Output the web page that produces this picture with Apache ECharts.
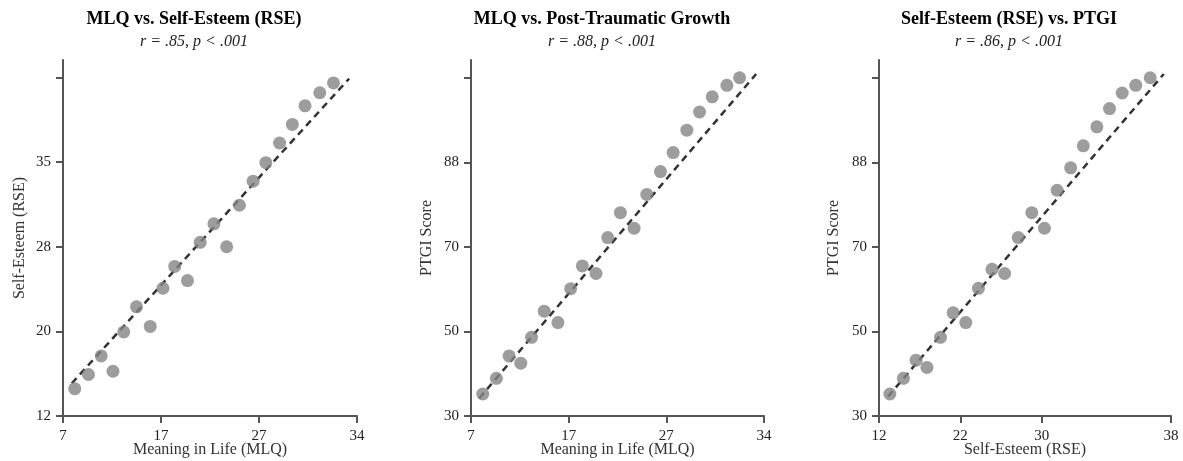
<!DOCTYPE html>
<html>
<head>
<meta charset="utf-8">
<script src="https://cdn.jsdelivr.net/npm/echarts@6/dist/echarts.min.js"></script>
<style>
  html, body { margin: 0; padding: 0; background: #fff; }
  #container { width: 1183px; height: 461px; }
</style>
</head>
<body>
<div id="container"></div>
<script>
// panel 1: MLQ vs RSE
const mlqA = [8.2, 9.6, 10.9, 12.1, 13.2, 14.5, 15.9, 17.2, 18.4, 19.7, 21.0, 22.4, 23.7, 25.0, 26.4, 27.7, 29.1, 30.4, 31.7, 33.2, 34.6];
const rseA = [14.5, 15.8, 17.5, 16.1, 19.7, 22.0, 20.2, 23.7, 25.7, 24.4, 27.9, 29.6, 27.5, 31.3, 33.5, 35.2, 37.0, 38.7, 40.4, 41.6, 42.5];
const fitAx = [7.9, 36.2];
const fitAy = [15.0, 42.9];

// panel 2: MLQ vs PTGI
const mlqB = [8.2, 9.6, 10.9, 12.1, 13.2, 14.5, 15.9, 17.2, 18.4, 19.8, 21.0, 22.3, 23.7, 25.0, 26.4, 27.7, 29.1, 30.4, 31.7, 33.2, 34.5];
const ptgiB = [35.2, 38.9, 44.2, 42.5, 48.6, 54.8, 52.1, 60.1, 65.5, 63.7, 72.2, 78.1, 74.4, 82.4, 87.8, 92.3, 97.6, 101.9, 105.5, 108.2, 110.0];
const fitBx = [7.85, 36.2];
const fitBy = [34.2, 110.9];

// panel 3: RSE vs PTGI
const rseC = [13.2, 14.7, 16.1, 17.3, 18.8, 20.2, 21.6, 23.0, 24.5, 25.9, 27.4, 28.9, 30.3, 31.7, 33.2, 34.6, 36.1, 37.5, 38.9, 40.4, 42.0];
const ptgiC = [35.2, 38.9, 43.2, 41.5, 48.6, 54.4, 52.1, 60.2, 64.7, 63.7, 72.2, 78.1, 74.4, 83.4, 88.7, 93.9, 98.4, 102.7, 106.4, 108.2, 110.0];
const fitCx = [13.0, 43.5];
const fitCy = [34.6, 110.9];

// tick positions and the labels printed on them
const xTicksMLQ = [7, 17, 27, 37];
const xLabelsMLQ = ['7', '17', '27', '34'];
const yTicksRSE = [12, 19.75, 27.5, 35.25, 43];
const yLabelsRSE = ['12', '20', '28', '35', ''];
const yTicksPTGI = [30, 50, 70, 90, 110];
const yLabelsPTGI = ['30', '50', '70', '88', ''];
const xTicksRSE = [12, 21, 30, 44.3];
const xLabelsRSE = ['12', '22', '30', '38'];

const titles = ['MLQ vs. Self-Esteem (RSE)', 'MLQ vs. Post-Traumatic Growth', 'Self-Esteem (RSE) vs. PTGI'];
const subtitles = ['r = .85, p < .001', 'r = .88, p < .001', 'r = .86, p < .001'];

const FONT = '"Liberation Serif", "Times New Roman", serif';

let dom = document.getElementById('container');
let myChart = echarts.init(dom);

function zip(xs, ys) {
    return xs.map((x, i) => [x, ys[i]]);
}

function labelFor(ticks, labels) {
    return (v) => {
        for (let i = 0; i < ticks.length; i++) {
            if (Math.abs(ticks[i] - v) < 1e-6) return labels[i];
        }
        return '';
    };
}

function makeAxis(idx, min, max, ticks, labels, name, isY, gap) {
    return {
        type: 'value',
        gridIndex: idx,
        min: min,
        max: max,
        name: name,
        nameLocation: 'middle',
        nameGap: gap,
        nameMoveOverlap: false,
        nameTextStyle: { fontFamily: FONT, fontSize: 16, color: '#333' },
        axisLine: { show: true, onZero: false, lineStyle: { color: '#555', width: 2 } },
        axisTick: { show: true, length: 7, customValues: ticks, lineStyle: { color: '#555', width: 2 } },
        axisLabel: {
            customValues: ticks,
            formatter: labelFor(ticks, labels),
            fontFamily: FONT, fontSize: 15, color: '#222',
            margin: isY ? 12 : 13
        },
        splitLine: { show: false }
    };
}

// fixed plot boxes; keep v6 from shrinking them to fit labels
const grids = [
    { left: 63, top: 60, width: 294, height: 356, containLabel: false, outerBoundsMode: 'none' },
    { left: 471, top: 60, width: 293, height: 356, containLabel: false, outerBoundsMode: 'none' },
    { left: 879, top: 60, width: 292, height: 356, containLabel: false, outerBoundsMode: 'none' }
];

const titleCenters = [194, 602, 1009];
const graphics = [];
titles.forEach((t, i) => {
    graphics.push({
        type: 'text', x: titleCenters[i], y: 19,
        style: { text: t, font: 'bold 18px ' + FONT, fill: '#000', textAlign: 'center', textVerticalAlign: 'middle' }
    });
    graphics.push({
        type: 'text', x: titleCenters[i], y: 42,
        style: { text: subtitles[i], font: 'italic 16px ' + FONT, fill: '#222', textAlign: 'center', textVerticalAlign: 'middle' }
    });
});

function scatter(idx, pts) {
    return {
        type: 'scatter', xAxisIndex: idx, yAxisIndex: idx, data: pts,
        symbolSize: 13, itemStyle: { color: '#858585' }, z: 3
    };
}

function fitLine(idx, pts) {
    return {
        type: 'line', xAxisIndex: idx, yAxisIndex: idx, data: pts,
        symbol: 'none', z: 2,
        lineStyle: { color: '#333', width: 2.5, type: [7, 5] }
    };
}

const option = {
    animation: false,
    backgroundColor: '#fff',
    grid: grids,
    graphic: graphics,
    xAxis: [
        makeAxis(0, 7, 37, xTicksMLQ, xLabelsMLQ, 'Meaning in Life (MLQ)', false, 26),
        makeAxis(1, 7, 37, xTicksMLQ, xLabelsMLQ, 'Meaning in Life (MLQ)', false, 26),
        makeAxis(2, 12, 44.3, xTicksRSE, xLabelsRSE, 'Self-Esteem (RSE)', false, 26)
    ],
    yAxis: [
        makeAxis(0, 12, 44.6, yTicksRSE, yLabelsRSE, 'Self-Esteem (RSE)', true, 35),
        makeAxis(1, 30, 114.2, yTicksPTGI, yLabelsPTGI, 'PTGI Score', true, 36),
        makeAxis(2, 30, 114.2, yTicksPTGI, yLabelsPTGI, 'PTGI Score', true, 37)
    ],
    series: [
        fitLine(0, zip(fitAx, fitAy)),
        scatter(0, zip(mlqA, rseA)),
        fitLine(1, zip(fitBx, fitBy)),
        scatter(1, zip(mlqB, ptgiB)),
        fitLine(2, zip(fitCx, fitCy)),
        scatter(2, zip(rseC, ptgiC))
    ]
};

myChart.setOption(option);
</script>
</body>
</html>
